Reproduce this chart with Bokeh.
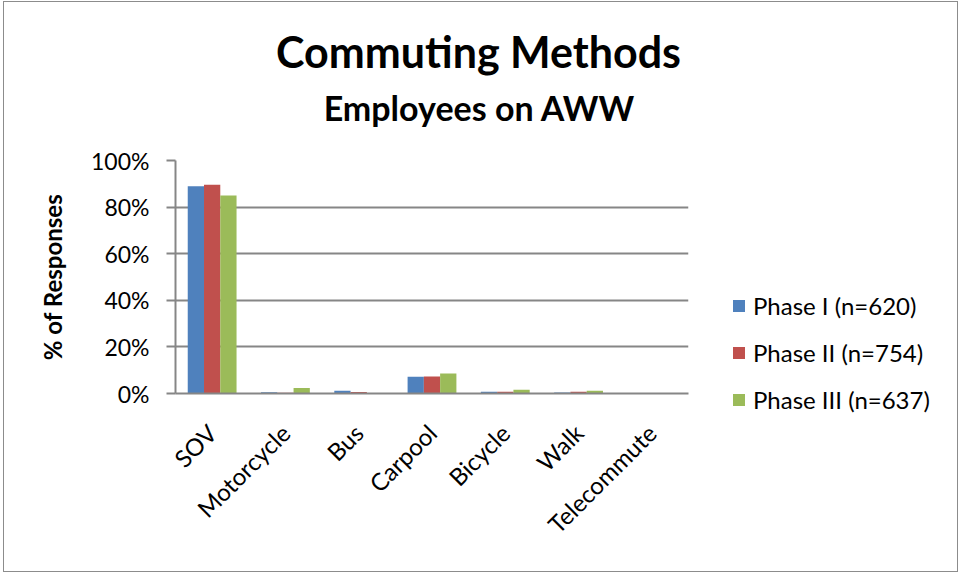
from bokeh.plotting import figure
from bokeh.models import (FactorRange, Range1d, NumeralTickFormatter, Legend, LegendItem,
                          Label, FixedTicker)
from bokeh.layouts import column, row
from bokeh.transform import dodge
from bokeh.embed import file_html
from bokeh.resources import INLINE
import math

categories = ["SOV", "Motorcycle", "Bus", "Carpool", "Bicycle", "Walk", "Telecommute"]
phase1 = [0.890, 0.005, 0.012, 0.072, 0.007, 0.004, 0.0]
phase2 = [0.896, 0.003, 0.006, 0.073, 0.007, 0.007, 0.0]
phase3 = [0.850, 0.024, 0.0, 0.086, 0.016, 0.012, 0.0]
series_names = ["Phase I (n=620)", "Phase II (n=754)", "Phase III (n=637)"]
colors = ["#4F81BD", "#C0504D", "#9BBB59"]
y_ticks = [0, 0.2, 0.4, 0.6, 0.8, 1.0]
title_text = "Commuting Methods"
subtitle_text = "Employees on AWW"

# ---- title strip ----
TW, TH = 953, 143
top = figure(width=TW, height=TH, x_range=Range1d(0, TW), y_range=Range1d(TH, 0),
             output_backend="svg", toolbar_location=None, title=None,
             min_border_left=0, min_border_right=0, min_border_top=0, min_border_bottom=0)
top.frame_align = False
top.axis.visible = False
top.grid.visible = False
top.outline_line_color = None
top.add_layout(Label(x=474, y=49, text=title_text, text_font="Lato", text_font_style="bold",
                     text_font_size="43px", text_align="center", text_baseline="alphabetic",
                     text_color="black"))
top.add_layout(Label(x=475, y=105, text=subtitle_text, text_font="Lato", text_font_style="bold",
                     text_font_size="34px", text_align="center", text_baseline="alphabetic",
                     text_color="black"))

# ---- chart ----
CW, CH = 696, 426
p = figure(width=CW, height=CH, x_range=FactorRange(*categories), y_range=Range1d(0, 1),
           output_backend="svg", toolbar_location=None, title=None,
           min_border_left=171, min_border_right=12, min_border_top=15, min_border_bottom=178)
p.outline_line_color = None

data = dict(cat=categories, a=phase1, b=phase2, c=phase3)
bw = 0.222
renderers = []
for key, off, col in zip(["a", "b", "c"], [-bw, 0, bw], colors):
    r = p.vbar(x=dodge("cat", off, range=p.x_range), top=key, width=bw, source=data,
               fill_color=col, line_color=None)
    renderers.append(r)

p.yaxis.ticker = FixedTicker(ticks=y_ticks)
p.yaxis.formatter = NumeralTickFormatter(format="0%")
p.yaxis.axis_line_color = "#868686"
p.yaxis.axis_line_width = 2
p.yaxis.major_tick_line_color = "#868686"
p.yaxis.major_tick_line_width = 2
p.yaxis.major_tick_out = 9
p.yaxis.major_tick_in = 0
p.yaxis.minor_tick_line_color = None
p.yaxis.major_label_text_font = "Lato"
p.yaxis.major_label_text_font_size = "23px"
p.yaxis.major_label_text_color = "black"
p.yaxis.major_label_standoff = 17
p.yaxis.axis_label = "% of Responses"
p.yaxis.axis_label_text_font = "Lato"
p.yaxis.axis_label_text_font_style = "bold"
p.yaxis.axis_label_text_font_size = "24px"
p.yaxis.axis_label_text_color = "black"
p.yaxis.axis_label_standoff = 21

p.xaxis.axis_line_color = "#868686"
p.xaxis.axis_line_width = 2
p.xaxis.major_tick_line_color = None
p.xaxis.minor_tick_line_color = None
p.xaxis.major_label_orientation = math.pi / 4
p.xaxis.major_label_text_font = "Lato"
p.xaxis.major_label_text_font_size = "24px"
p.xaxis.major_label_text_color = "black"
p.xaxis.major_label_standoff = 29

p.xgrid.grid_line_color = None
p.ygrid.grid_line_color = "#868686"
p.ygrid.grid_line_width = 2

# ---- legend strip ----
LW, LH = TW - CW, CH
lg = figure(width=LW, height=LH, x_range=Range1d(0, 1), y_range=Range1d(0, 1),
            output_backend="svg", toolbar_location=None, title=None,
            min_border_left=0, min_border_right=0, min_border_top=0, min_border_bottom=0)
lg.frame_align = False
lg.axis.visible = False
lg.grid.visible = False
lg.outline_line_color = None
idx = list(range(len(categories)))
proxies = [lg.vbar(x=idx, top=vals, width=0.5, fill_color=c, line_color=None, visible=False)
           for vals, c in zip([phase1, phase2, phase3], colors)]
legend = Legend(items=[LegendItem(label=n, renderers=[r]) for n, r in zip(series_names, proxies)],
                location=(31, 157), orientation="vertical")
legend.label_text_font = "Lato"
legend.label_text_font_size = "24px"
legend.label_text_color = "black"
legend.glyph_width = 15
legend.glyph_height = 15
legend.label_height = 15
legend.spacing = 18
legend.padding = 0
legend.margin = 0
legend.label_standoff = 7
legend.border_line_color = None
legend.background_fill_alpha = 0
legend.inactive_fill_alpha = 0
lg.add_layout(legend, "center")

layout = column(top, row(p, lg))
layout.styles = {"margin": "1px 0px 0px 3px", "border": "1px solid #8c8c8c"}

open("out.html", "w").write(file_html(layout, INLINE))
